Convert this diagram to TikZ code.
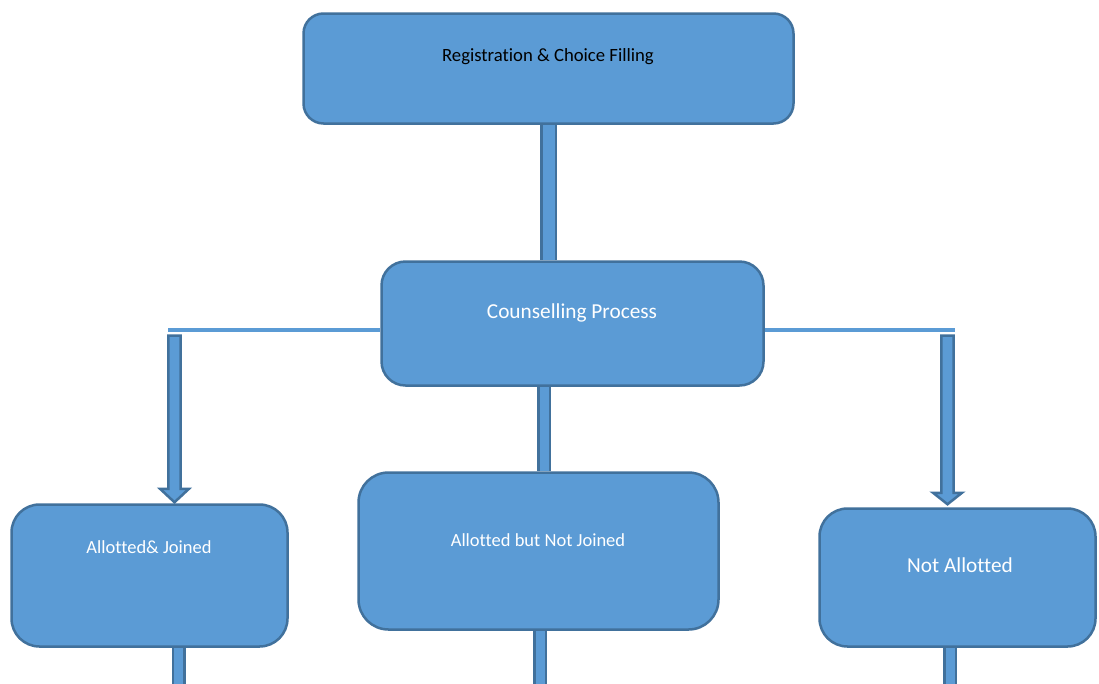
\documentclass[tikz,border=0pt]{standalone}
\usepackage{fontspec}
\setmainfont{Carlito}[Ligatures={NoCommon}]
\usetikzlibrary{calc}
\definecolor{fillc}{HTML}{5B9BD5}
\definecolor{bordc}{HTML}{41719C}
\tikzset{
  box/.style={draw=bordc, fill=fillc, line width=2.5pt, inner sep=0pt, rectangle},
  lbl/.style={inner sep=0pt, text=white, font=\fontsize{18.5}{22}\selectfont},
  biglbl/.style={inner sep=0pt, text=white, font=\fontsize{21.3}{25}\selectfont},
  bar/.style={draw=bordc, line width=2.5pt, double=fillc, double distance=12pt},
  thinbar/.style={draw=bordc, line width=2.5pt, double=fillc, double distance=9pt},
  hline/.style={draw=fillc, line width=4.5pt},
  blockarrow/.style={draw=bordc, fill=fillc, line width=2.5pt, line join=miter},
}
\begin{document}
\begin{tikzpicture}[x=1pt,y=-1pt]
\useasboundingbox[fill=white] (0,0) rectangle (1099,683);
% boxes
\node[box, rounded corners=20pt, minimum width=490pt, minimum height=110pt] (reg) at (548.5,68.5) {};
\node[inner sep=0pt, text=black, font=\fontsize{18.7}{22}\selectfont] (regt) at (548,57) {Registration \& Choice Filling};
\node[box, rounded corners=24pt, minimum width=382pt, minimum height=124pt] (cp) at (572.5,323.5) {};
\node[biglbl] (cpt) at (572,313) {Counselling Process};
\node[box, rounded corners=28pt, minimum width=276pt, minimum height=142pt] (aj) at (149.5,575.5) {};
\node[lbl] (ajt) at (149,547) {Allotted\& Joined};
\node[box, rounded corners=30pt, minimum width=360pt, minimum height=157pt] (anj) at (538.5,551) {};
\node[lbl] (anjt) at (538,540) {Allotted but Not Joined};
\node[box, rounded corners=28pt, minimum width=276pt, minimum height=138pt] (na) at (957.5,577.5) {};
\node[biglbl] (nat) at (960,565) {Not Allotted};
% vertical bars
\draw[bar] (reg.south) -- (reg.south |- cp.north);
\draw[thinbar] ([xshift=-28.5pt]cp.south) -- ([xshift=-28.5pt]cp.south |- anj.north);
% horizontal split lines
\coordinate (hl) at (168,330);
\coordinate (hr) at (955,330);
\draw[hline] (hl) -- (cp.west |- hl);
\draw[hline] (cp.east |- hr) -- (hr);
% block arrows
\coordinate (aL) at (174.5,335.5);
\coordinate (aR) at (947.5,335.5);
\coordinate (tL) at (aL |- aj.north);
\coordinate (tR) at (aR |- na.north);
\draw[blockarrow] ($(aL)+(-6.2,0)$) -- ($(aL)+(6.2,0)$) -- ($(tL)+(6.2,-14.5)$) -- ($(tL)+(14.5,-14.5)$) -- ($(tL)+(0,-1)$) -- ($(tL)+(-14.5,-14.5)$) -- ($(tL)+(-6.2,-14.5)$) -- cycle;
\draw[blockarrow] ($(aR)+(-6.2,0)$) -- ($(aR)+(6.2,0)$) -- ($(tR)+(6.2,-14.5)$) -- ($(tR)+(14.5,-14.5)$) -- ($(tR)+(0,-3)$) -- ($(tR)+(-14.5,-14.5)$) -- ($(tR)+(-6.2,-14.5)$) -- cycle;
% bottom bars
\coordinate (eL) at (178.5,690);
\coordinate (eM) at (540,690);
\coordinate (eR) at (950,690);
\draw[thinbar] (eL |- aj.south) -- (eL);
\draw[thinbar] (eM |- anj.south) -- (eM);
\draw[thinbar] (eR |- na.south) -- (eR);
\end{tikzpicture}
\end{document}
